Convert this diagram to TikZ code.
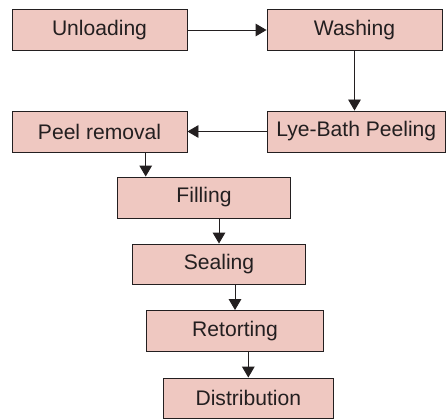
\documentclass[tikz,border=0pt]{standalone}
\usepackage{fontspec}
\setsansfont{Liberation Sans}
\usepackage{xcolor}
\usepackage{tikz}
\usetikzlibrary{positioning, arrows.meta}
\definecolor{boxpink}{RGB}{239,200,193}
\definecolor{inkgrey}{RGB}{35,31,32}

\begin{document}
\begin{tikzpicture}[
    x=0.3mm, y=-0.3mm,
    every node/.style={font=\sffamily\fontsize{18}{21}\selectfont, text=inkgrey},
    stepbox/.style={rectangle, draw=inkgrey, fill=boxpink, line width=0.8pt,
                    inner sep=0pt, minimum height=12.3mm},
    arr/.style={-{Triangle[length=3.3mm,width=3.8mm]}, line width=0.8pt, draw=inkgrey},
  ]
  \useasboundingbox (0,0) rectangle (446,418);

  % ============ TOP ROW ============
  \node[stepbox, minimum width=52.5mm] (unload) at (99.5, 30) {Unloading};
  \node[stepbox, minimum width=52.5mm] (wash) at (354.5, 30) {Washing};

  % ============ SECOND ROW ============
  \node[stepbox, minimum width=52.5mm] (peel) at (99.5, 131.5) {Peel removal};
  \node[stepbox, minimum width=53.4mm] (lye) at (356.3, 131.5) {Lye-Bath Peeling};

  % ============ STAIRCASE ============
  \node[stepbox, minimum width=51.7mm] (fill) at (204, 197.5) {Filling};
  \node[stepbox, minimum width=51.7mm, minimum height=12mm] (seal) at (219, 264) {Sealing};
  \node[stepbox, minimum width=53mm] (retort) at (235, 331) {Retorting};
  \node[stepbox, minimum width=51mm, minimum height=12mm] (distrib) at (248.3, 398) {Distribution};

  % ============ CONNECTORS ============
  \coordinate (pf) at (145.7, 0);
  \draw[arr] (unload) -- (wash);
  \draw[arr] (wash.south) -- (wash.south |- lye.north);
  \draw[arr] (lye) -- (peel);
  \draw[arr] (peel.south -| pf) -- (fill.north -| pf);
  \draw[arr] (fill.south -| seal.north) -- (seal.north);
  \draw[arr] (seal.south -| retort.north) -- (retort.north);
  \draw[arr] (retort.south -| distrib.north) -- (distrib.north);

\end{tikzpicture}
\end{document}
